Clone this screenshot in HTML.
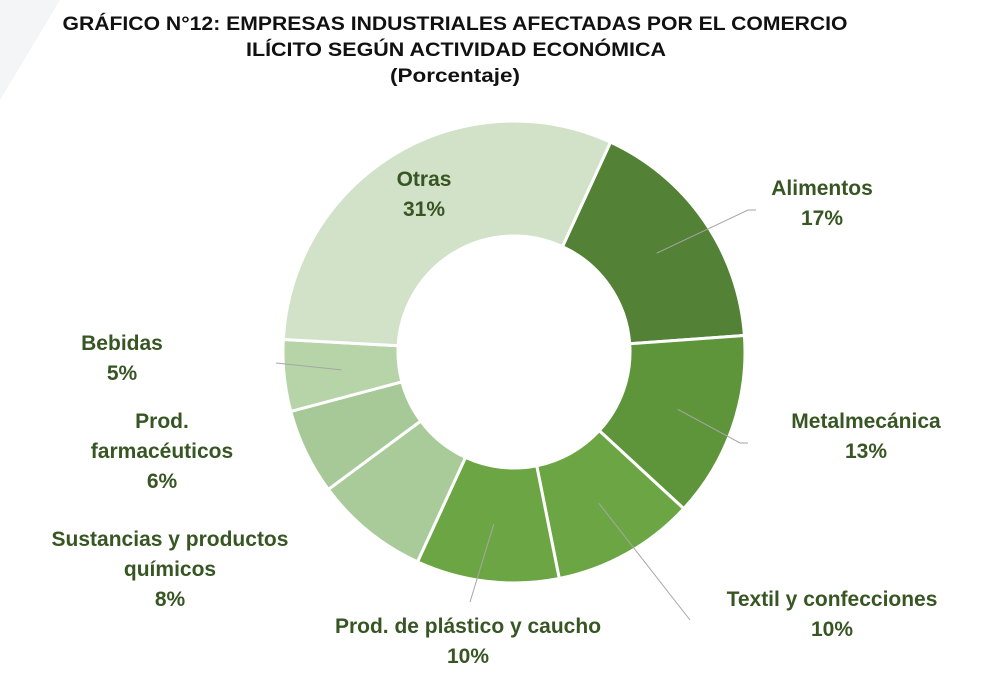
<!DOCTYPE html>
<html><head><meta charset="utf-8"><style>
body{margin:0;background:#fff;width:992px;height:688px;overflow:hidden}
svg{display:block}
text{font-family:"Liberation Sans",sans-serif;font-weight:bold}
.lbl{fill:#375623;font-size:21px}
.t{fill:#111;font-size:19px}
</style></head><body>
<svg id="chart" width="992" height="688" viewBox="0 0 992 688">
<polygon points="0,0 60,0 0,100" fill="#f4f5f6"/>
<text class="t" x="455" y="30" text-anchor="middle" textLength="785" lengthAdjust="spacingAndGlyphs">GRÁFICO N°12: EMPRESAS INDUSTRIALES AFECTADAS POR EL COMERCIO</text>
<text class="t" x="456" y="56" text-anchor="middle" textLength="420" lengthAdjust="spacingAndGlyphs">ILÍCITO SEGÚN ACTIVIDAD ECONÓMICA</text>
<text class="t" x="455" y="82" text-anchor="middle" textLength="130" lengthAdjust="spacingAndGlyphs">(Porcentaje)</text>
<g id="slices"></g>
<g id="labels"></g>
</svg>
<script>
const categories=["Alimentos","Metalmecánica","Textil y confecciones","Prod. de plástico y caucho","Sustancias y productos químicos","Prod. farmacéuticos","Bebidas","Otras"];
const values=[17,13,10,10,8,6,5,31];
const valueLabels=["17%","13%","10%","10%","8%","6%","5%","31%"];
const colors=["#538135","#5f953a","#6ca644","#6ca644","#a9cb9a","#a6c997","#b6d4a8","#d1e2c9"];
const labelLines=[["Alimentos"],["Metalmecánica"],["Textil y confecciones"],["Prod. de plástico y caucho"],["Sustancias y productos","químicos"],["Prod.","farmacéuticos"],["Bebidas"],["Otras"]];
const labelPos=[[822,203],[866,436],[832,614],[468,641],[170,569],[162,451],[122,358],[424,194]];
const leaderEnd=[[748,210,756,210],[740,443,748,443],[690,620,690,620],[470,602,470,602],null,null,[276,363,276,363],null];
const cx=514,cy=352,R=231,r=116,start=24.7;
const NS="http://www.w3.org/2000/svg";
const total=values.reduce((a,b)=>a+b,0);
function pt(a,rad){const t=(a-90)*Math.PI/180;return [cx+rad*Math.cos(t),cy+rad*Math.sin(t)];}
const gs=document.getElementById('slices'),gl=document.getElementById('labels');
let a=start;
values.forEach((v,i)=>{
  const sw=v/total*360,b=a+sw,lg=sw>180?1:0;
  const p1=pt(a,R),p2=pt(b,R),p3=pt(b,r),p4=pt(a,r);
  const p=document.createElementNS(NS,'path');
  p.setAttribute('d',`M${p1}L${p1}A${R},${R} 0 ${lg} 1 ${p2}L${p3}A${r},${r} 0 ${lg} 0 ${p4}Z`);
  p.setAttribute('fill',colors[i]);p.setAttribute('stroke','#fff');p.setAttribute('stroke-width','3');
  
  
  gs.appendChild(p);
  const mid=(a+b)/2;
  if(leaderEnd[i]){
    const m=pt(mid,(R+r)/2),e=leaderEnd[i];
    const l=document.createElementNS(NS,'polyline');
    l.setAttribute('points',`${m} ${e[0]},${e[1]} ${e[2]},${e[3]}`);
    l.setAttribute('fill','none');l.setAttribute('stroke','#a6a6a6');l.setAttribute('stroke-width','1');
    
    
    gl.appendChild(l);
  }
  const lines=labelLines[i].concat([valueLabels[i]]);
  const n=lines.length,[lx,ly]=labelPos[i];
  lines.forEach((s,k)=>{
    const t=document.createElementNS(NS,'text');
    t.setAttribute('class','lbl');t.setAttribute('x',lx);
    t.setAttribute('y',ly-(n-1)*30/2+k*30+7);
    t.setAttribute('text-anchor','middle');
    t.textContent=s;
    
    
    gl.appendChild(t);
  });
  a=b;
});
</script>
</body></html>
